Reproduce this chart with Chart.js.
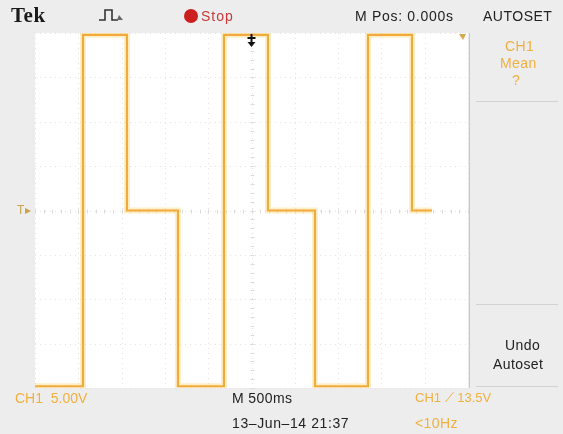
<!DOCTYPE html>
<html>
<head>
<meta charset="utf-8">
<script src="https://cdn.jsdelivr.net/npm/chart.js@4"></script>
<style>
  html,body{margin:0;padding:0;background:#ededed;}
  #wrap{position:relative;width:563px;height:434px;overflow:hidden;background:#ededed;}
  canvas{position:absolute;left:0;top:0;}
  .t{position:absolute;white-space:nowrap;font-family:"Liberation Sans",Arial,sans-serif;font-size:14px;letter-spacing:0.4px;color:#222;line-height:1;}
  .o{color:#f0b040;}
  .sep{position:absolute;height:1px;background:#d2d2d2;}
</style>
</head>
<body>
<div id="wrap">
  <canvas id="c" width="563" height="434"></canvas>
  <div class="t" style="left:11px;top:5px;font-family:'Liberation Serif',serif;font-weight:bold;font-size:21px;letter-spacing:0.5px;color:#1a1a1a;">Tek</div>
  <svg style="position:absolute;left:97px;top:7px" width="30" height="16"><path d="M2 13 H8 V3 H15 V13 H21" fill="none" stroke="#333" stroke-width="1.6"/><path d="M20 13 L26 13 L22 8 Z" fill="#666"/></svg>
  <svg style="position:absolute;left:183px;top:8px" width="16" height="16"><circle cx="8" cy="8" r="7" fill="#cc1f1f"/></svg>
  <div class="t" style="left:201px;top:9px;color:#c83a3a;letter-spacing:1px;">Stop</div>
  <div class="t" style="left:355px;top:9px;letter-spacing:0.7px;">M Pos: 0.000s</div>
  <div class="t" style="left:483px;top:9px;letter-spacing:0.5px;">AUTOSET</div>
  <div class="t o" style="left:505px;top:39px;">CH1</div>
  <div class="t o" style="left:500px;top:56px;">Mean</div>
  <div class="t o" style="left:512px;top:73px;">?</div>
  <div class="sep" style="left:476px;top:101px;width:82px;"></div>
  <div class="sep" style="left:476px;top:304px;width:82px;"></div>
  <div class="t" style="left:505px;top:338px;">Undo</div>
  <div class="t" style="left:493px;top:357px;">Autoset</div>
  <div class="sep" style="left:476px;top:386px;width:82px;"></div>
  <div class="t o" style="left:15px;top:391px;letter-spacing:0;">CH1&nbsp;&nbsp;5.00V</div>
  <div class="t" style="left:232px;top:391px;">M 500ms</div>
  <div class="t" style="left:232px;top:416px;letter-spacing:0.6px;">13–Jun–14 21:37</div>
  <div class="t o" style="left:415px;top:391px;font-size:13px;letter-spacing:0;">CH1 ⟋ 13.5V</div>
  <div class="t o" style="left:415px;top:416px;">&lt;10Hz</div>
  <div class="t" style="left:17px;top:204px;color:#c9a24a;font-size:12px;">T▸</div>
</div>
<script>
// Data (time in s, voltage in V)
const startTimeS = -2.5;
const endTimeS = 2.084;
const edgeTimesS = [-1.946, -1.438, -0.849, -0.318, 0.190, 0.733, 1.345, 1.853];
const levelsV = [-19.8, 19.8, 0, -19.8, 19.8, 0, -19.8, 19.8, 0];
const xDivTicks = [-2.5, -2.0, -1.5, -1.0, -0.5, 0, 0.5, 1.0, 1.5, 2.0, 2.5];
const yDivTicks = [-20, -15, -10, -5, 0, 5, 10, 15, 20];

const pts = [{x: startTimeS, y: levelsV[0]}];
edgeTimesS.forEach((t, i) => pts.push({x: t, y: levelsV[i + 1]}));
pts.push({x: endTimeS, y: levelsV[levelsV.length - 1]});

const scopePlugin = {
  id: 'scope',
  beforeDatasetsDraw(chart) {
    const {ctx, chartArea: a, scales: {x, y}} = chart;
    ctx.save();
    ctx.fillStyle = '#ffffff';
    ctx.fillRect(a.left, a.top, a.right - a.left, a.bottom - a.top);
    ctx.strokeStyle = '#e3e3e3';
    ctx.lineWidth = 1;
    ctx.setLineDash([1, 4]);
    xDivTicks.forEach(v => {
      const px = Math.round(x.getPixelForValue(v)) + 0.5;
      ctx.beginPath(); ctx.moveTo(px, a.top); ctx.lineTo(px, a.bottom); ctx.stroke();
    });
    yDivTicks.forEach(v => {
      const py = Math.round(y.getPixelForValue(v)) + 0.5;
      ctx.beginPath(); ctx.moveTo(a.left, py); ctx.lineTo(a.right, py); ctx.stroke();
    });
    ctx.setLineDash([]);
    const cx = Math.round(x.getPixelForValue(0)) + 0.5;
    const cy = Math.round(y.getPixelForValue(0)) + 0.5;
    ctx.strokeStyle = '#dcdcdc';
    for (let v = -2.5; v <= 2.5001; v += 0.1) {
      const px = Math.round(x.getPixelForValue(v)) + 0.5;
      ctx.beginPath(); ctx.moveTo(px, cy - 2); ctx.lineTo(px, cy + 2); ctx.stroke();
    }
    for (let v = -20; v <= 20.001; v += 1) {
      const py = Math.round(y.getPixelForValue(v)) + 0.5;
      ctx.beginPath(); ctx.moveTo(cx - 2, py); ctx.lineTo(cx + 2, py); ctx.stroke();
    }
    ctx.strokeStyle = '#c8c8c8';
    ctx.beginPath(); ctx.moveTo(a.right + 1.5, a.top); ctx.lineTo(a.right + 1.5, a.bottom); ctx.stroke();
    ctx.restore();
  },
  afterDatasetsDraw(chart) {
    const {ctx, chartArea: a, scales: {x}} = chart;
    const px = x.getPixelForValue(0);
    ctx.save();
    ctx.fillStyle = '#111';
    ctx.fillRect(px - 1, a.top + 1, 2, 10);
    ctx.fillRect(px - 4, a.top + 4, 8, 2);
    ctx.beginPath(); ctx.moveTo(px - 4, a.top + 9); ctx.lineTo(px + 4, a.top + 9); ctx.lineTo(px, a.top + 14); ctx.closePath(); ctx.fill();
    ctx.fillStyle = '#d6a94a';
    ctx.beginPath(); ctx.moveTo(a.right - 9, a.top + 1); ctx.lineTo(a.right - 2, a.top + 1); ctx.lineTo(a.right - 5, a.top + 7); ctx.closePath(); ctx.fill();
    ctx.restore();
  }
};

new Chart(document.getElementById('c'), {
  type: 'scatter',
  data: {
    datasets: [
      {data: pts, showLine: true, stepped: 'before', borderColor: 'rgba(250,220,130,0.45)', borderWidth: 6, pointRadius: 0, order: 2},
      {data: pts, showLine: true, stepped: 'before', borderColor: '#f2aa3c', borderWidth: 2.2, pointRadius: 0, order: 1}
    ]
  },
  options: {
    responsive: false,
    animation: false,
    layout: {padding: {left: 35, top: 33, right: 95, bottom: 46}},
    plugins: {legend: {display: false}, tooltip: {enabled: false}},
    scales: {
      x: {type: 'linear', min: -2.5, max: 2.5, display: false},
      y: {type: 'linear', min: -20, max: 20, display: false}
    }
  },
  plugins: [scopePlugin]
});
</script>
</body>
</html>
